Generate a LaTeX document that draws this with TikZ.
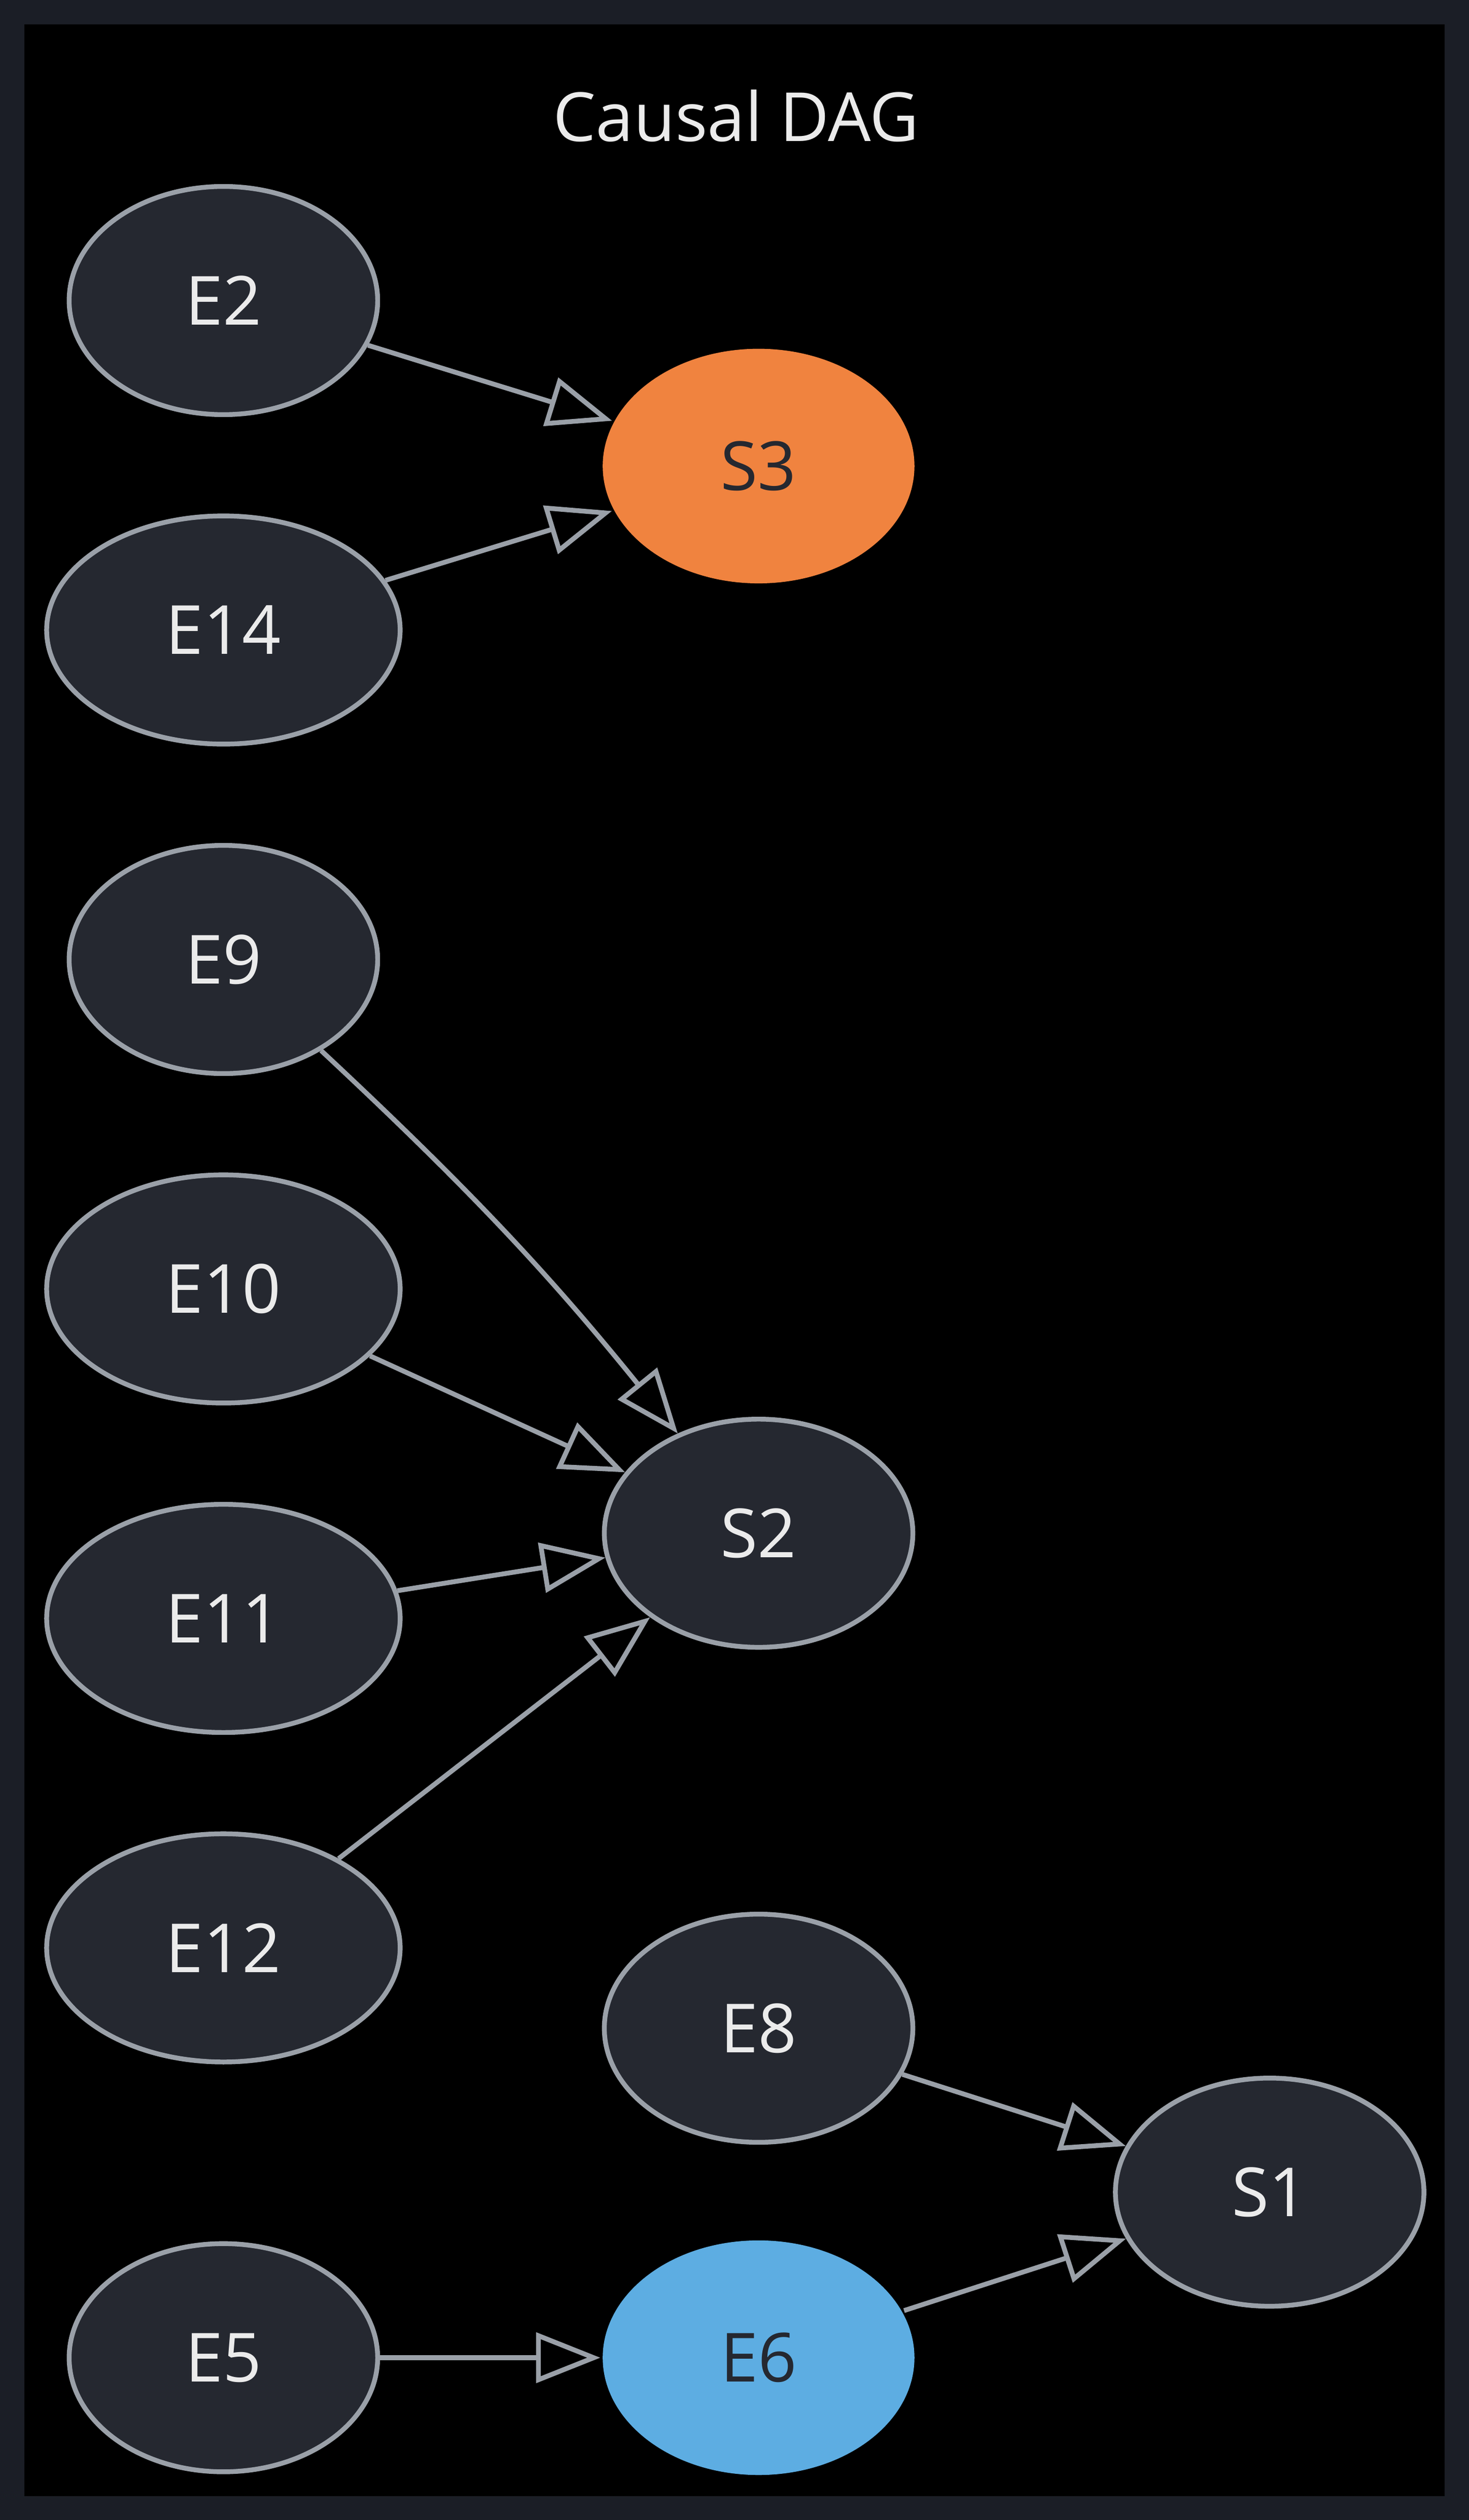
\documentclass[tikz,border=0pt]{standalone}
\usepackage{fontspec}
\setmainfont{Open Sans}
\usetikzlibrary{shapes.geometric,arrows.meta}
\definecolor{framecol}{HTML}{1B1E26}
\definecolor{nodefill}{HTML}{252830}
\definecolor{edgecol}{HTML}{9AA0A8}
\definecolor{hotcol}{HTML}{F0833F}
\definecolor{coolcol}{HTML}{5DADE2}
\begin{document}
\begin{tikzpicture}[x=0.02cm,y=-0.02cm,
    every node/.style = {font=\fontsize{24}{28}\selectfont},
    ev/.style = {shape=ellipse, draw=edgecol, line width=1.7pt,
      fill=nodefill, text=white!92!black, inner sep=0pt,
      minimum width=3.84cm, minimum height=2.84cm},
    wide/.style = {minimum width=4.4cm},
    hot/.style = {ev, draw=none, fill=hotcol, text=nodefill, minimum width=3.88cm, minimum height=2.92cm},
    cool/.style = {ev, draw=none, fill=coolcol, text=nodefill, minimum width=3.88cm, minimum height=2.92cm},
    link/.style = {draw=edgecol, line width=1.7pt,
      -{Triangle[open,length=0.8cm,width=0.62cm]}}]
    \fill[framecol] (0,0) rectangle (914,1568);
    \fill[black] (15,15) rectangle (899,1553);
    \node[text=white!92!black] (title) at (458,72) {Causal DAG};
    % sources
    \node[ev] (e2) at (139,187) {E2};
    \node[ev,wide] (e14) at (139,392) {E14};
    \node[ev] (e9) at (139,597) {E9};
    \node[ev,wide] (e10) at (139,802) {E10};
    \node[ev,wide] (e11) at (139,1007) {E11};
    \node[ev,wide] (e12) at (139,1212) {E12};
    \node[ev] (e5) at (139,1467) {E5};
    % middle and sinks
    \node[hot] (s3) at (472,290) {S3};
    \node[ev] (s2) at (472,954) {S2};
    \node[ev] (e8) at (472,1262) {E8};
    \node[cool] (e6) at (472,1467) {E6};
    \node[ev] (s1) at (790,1364) {S1};
    \draw[link] (e2) -- (s3);
    \draw[link] (e14) -- (s3);
    \draw[link] (e9) to[bend left=4] (s2);
    \draw[link] (e10) -- (s2);
    \draw[link] (e11) -- (s2);
    \draw[link] (e12) -- (s2);
    \draw[link] (e8) -- (s1);
    \draw[link] (e6) -- (s1);
    \draw[link] (e5) -- (e6);
\end{tikzpicture}
\end{document}
